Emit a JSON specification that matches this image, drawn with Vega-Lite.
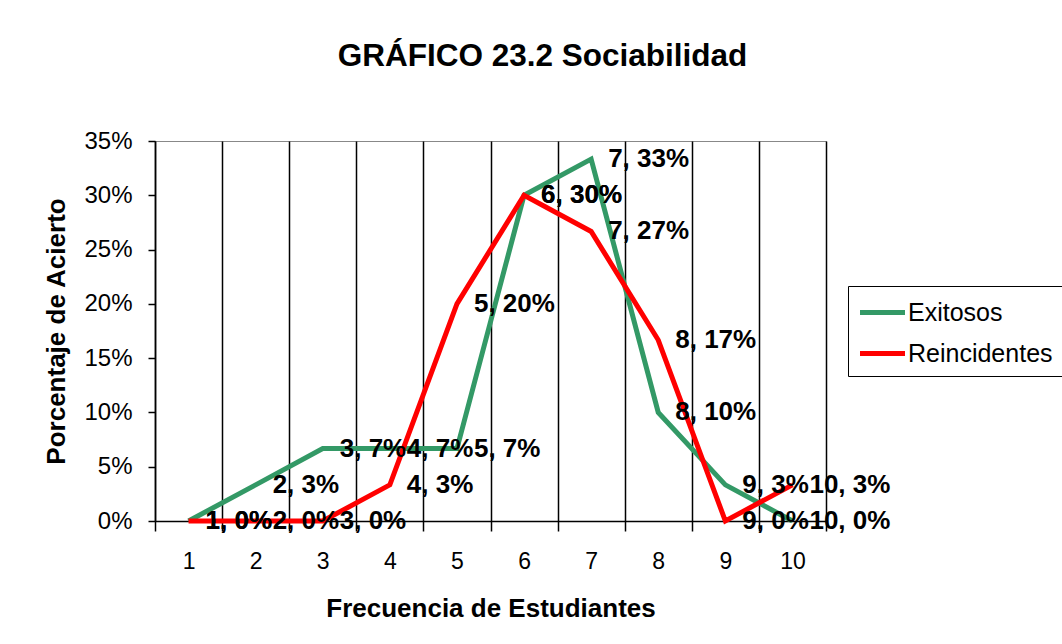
{
  "$schema": "https://vega.github.io/schema/vega-lite/v6.json",
  "width": 671,
  "height": 380,
  "autosize": {"type": "none"},
  "padding": {"left": 155, "top": 141, "right": 236, "bottom": 123},
  "background": "white",
  "title": {
    "text": "GRÁFICO 23.2 Sociabilidad",
    "font": "Liberation Sans",
    "fontSize": 31.5,
    "fontWeight": "bold",
    "color": "black",
    "anchor": "middle",
    "frame": "group",
    "dx": 52,
    "offset": 57
  },
  "config": {
    "view": {"stroke": "#888888", "strokeWidth": 1},
    "axis": {
      "labelFont": "Liberation Sans",
      "titleFont": "Liberation Sans",
      "labelColor": "black",
      "titleColor": "black",
      "domainColor": "black",
      "tickColor": "black",
      "domainWidth": 1.5,
      "tickWidth": 1.5
    }
  },
  "data": {
    "values": [
      {"freq": 1, "serie": "Exitosos", "pct": 0, "label": "1, 0%"},
      {"freq": 2, "serie": "Exitosos", "pct": 0.0333, "label": "2, 3%"},
      {"freq": 3, "serie": "Exitosos", "pct": 0.0667, "label": "3, 7%"},
      {"freq": 4, "serie": "Exitosos", "pct": 0.0667, "label": "4, 7%"},
      {"freq": 5, "serie": "Exitosos", "pct": 0.0667, "label": "5, 7%"},
      {"freq": 6, "serie": "Exitosos", "pct": 0.3, "label": "6, 30%"},
      {"freq": 7, "serie": "Exitosos", "pct": 0.3333, "label": "7, 33%"},
      {"freq": 8, "serie": "Exitosos", "pct": 0.1, "label": "8, 10%"},
      {"freq": 9, "serie": "Exitosos", "pct": 0.0333, "label": "9, 3%"},
      {"freq": 10, "serie": "Exitosos", "pct": 0, "label": "10, 0%"},
      {"freq": 1, "serie": "Reincidentes", "pct": 0, "label": "1, 0%"},
      {"freq": 2, "serie": "Reincidentes", "pct": 0, "label": "2, 0%"},
      {"freq": 3, "serie": "Reincidentes", "pct": 0, "label": "3, 0%"},
      {"freq": 4, "serie": "Reincidentes", "pct": 0.0333, "label": "4, 3%"},
      {"freq": 5, "serie": "Reincidentes", "pct": 0.2, "label": "5, 20%"},
      {"freq": 6, "serie": "Reincidentes", "pct": 0.3, "label": "6, 30%"},
      {"freq": 7, "serie": "Reincidentes", "pct": 0.2667, "label": "7, 27%"},
      {"freq": 8, "serie": "Reincidentes", "pct": 0.1667, "label": "8, 17%"},
      {"freq": 9, "serie": "Reincidentes", "pct": 0, "label": "9, 0%"},
      {"freq": 10, "serie": "Reincidentes", "pct": 0.0333, "label": "10, 3%"}
    ]
  },
  "encoding": {
    "x": {
      "field": "freq",
      "type": "ordinal",
      "scale": {"type": "band", "paddingInner": 0, "paddingOuter": 0},
      "axis": {
        "title": "Frecuencia de Estudiantes",
        "titleFontSize": 26,
        "titleFontWeight": "bold",
        "titlePadding": 22,
        "labelFontSize": 23,
        "labelAngle": 0,
        "labelPadding": 19,
        "tickBand": "extent",
        "tickSize": 10,
        "grid": true,
        "gridColor": "black",
        "gridWidth": 1.5
      }
    },
    "y": {
      "field": "pct",
      "type": "quantitative",
      "scale": {"domain": [0, 0.35], "nice": false},
      "axis": {
        "title": "Porcentaje de Acierto",
        "titleFontSize": 26,
        "titleFontWeight": "bold",
        "titlePadding": 14,
        "labelFontSize": 24,
        "labelPadding": 16,
        "tickSize": 7,
        "values": [0, 0.05, 0.1, 0.15, 0.2, 0.25, 0.3, 0.35],
        "format": ".0%",
        "grid": false
      }
    }
  },
  "layer": [
    {
      "mark": {"type": "line", "strokeWidth": 5},
      "encoding": {
        "color": {
          "field": "serie",
          "type": "nominal",
          "scale": {"domain": ["Exitosos", "Reincidentes"], "range": ["#339966", "#FF0000"]},
          "legend": {
            "title": null,
            "orient": "none",
            "legendX": 693,
            "legendY": 145,
            "strokeColor": "black",
            "padding": 9,
            "symbolType": "M-1.5,0H1.5",
            "symbolStrokeWidth": 5,
            "symbolSize": 900,
            "symbolOffset": 8,
            "labelFont": "Liberation Sans",
            "labelFontSize": 25,
            "labelColor": "black",
            "labelOffset": 8,
            "rowPadding": 10
          }
        }
      }
    },
    {
      "mark": {
        "type": "text",
        "align": "left",
        "baseline": "middle",
        "dx": 17,
        "font": "Liberation Sans",
        "fontSize": 26,
        "fontWeight": "bold",
        "color": "black"
      },
      "encoding": {
        "text": {"field": "label"}
      }
    }
  ]
}
